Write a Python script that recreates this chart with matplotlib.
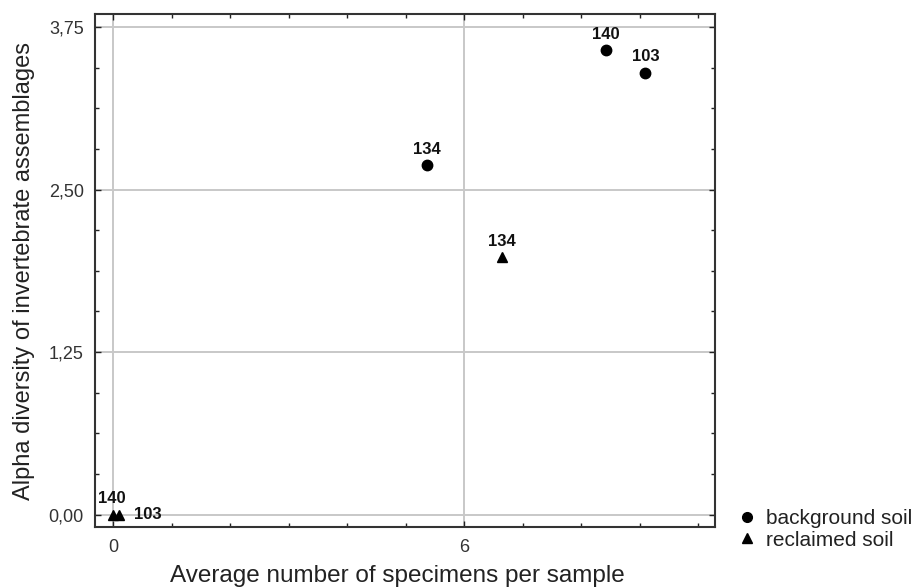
import matplotlib
matplotlib.use("Agg")
import matplotlib.pyplot as plt
from matplotlib.ticker import MultipleLocator, FixedLocator
from matplotlib.lines import Line2D

plt.rcParams['font.family'] = ['Liberation Sans', 'DejaVu Sans']

# Data
bg_labels = ["134", "140", "103"]
bg_x = [5.36, 8.43, 9.10]
bg_y = [2.69, 3.57, 3.40]

rc_labels = ["140", "103", "134"]
rc_x = [0.0, 0.1, 6.64]
rc_y = [0.0, 0.0, 1.98]

x_ticks = [0, 6]
y_ticks = [0.0, 1.25, 2.50, 3.75]
y_tick_labels = ["0,00", "1,25", "2,50", "3,75"]

fig = plt.figure(figsize=(9.18, 5.88), dpi=100)
ax = fig.add_axes([95/918, 1 - 527/588, (715-95)/918, (527-14)/588])

ax.set_xlim(-0.31, 10.29)
ax.set_ylim(-0.095, 3.85)

ax.grid(True, color="#c8c8c8", linewidth=1.4, zorder=0)
ax.set_axisbelow(True)

ax.plot(bg_x, bg_y, linestyle="none", marker="o", color="black", markersize=7.5, zorder=3)
ax.plot(rc_x, rc_y, linestyle="none", marker="^", color="black", markersize=7.5, zorder=3)

lab_kw = dict(fontsize=12, fontweight="bold", color="#111111", zorder=4)
for x, y, t in zip(bg_x, bg_y, bg_labels):
    ax.annotate(t, (x, y), xytext=(0, 6), textcoords="offset points", ha="center", va="bottom", **lab_kw)
for x, y, t in zip(rc_x, rc_y, rc_labels):
    if t == "140":
        ax.annotate(t, (x, y), xytext=(-1, 6), textcoords="offset points", ha="center", va="bottom", **lab_kw)
    elif t == "103":
        ax.annotate(t, (x, y), xytext=(11, 0), textcoords="offset points", ha="left", va="center", **lab_kw)
    else:
        ax.annotate(t, (x, y), xytext=(0, 6), textcoords="offset points", ha="center", va="bottom", **lab_kw)

ax.xaxis.set_major_locator(FixedLocator(x_ticks))
ax.xaxis.set_minor_locator(MultipleLocator(1))
ax.yaxis.set_major_locator(FixedLocator(y_ticks))
ax.yaxis.set_minor_locator(MultipleLocator(0.3125))
ax.set_yticklabels(y_tick_labels)
ax.set_xticklabels([str(v) for v in x_ticks])

ax.tick_params(which="both", direction="in", top=True, right=True, colors="#222222",
               labelcolor="#333333", labelsize=13)
ax.tick_params(which="major", length=4, width=1)
ax.tick_params(which="minor", length=3, width=1)
ax.tick_params(axis="x", pad=9)
ax.tick_params(axis="y", pad=8)

for s in ax.spines.values():
    s.set_linewidth(1.5)
    s.set_color("#333333")

ax.set_xlabel("Average number of specimens per sample", fontsize=17.5, color="#222222", labelpad=7)
ax.xaxis.set_label_coords(0.487, -0.075)
ax.xaxis.label.set_va("top")
ax.set_ylabel("Alpha diversity of invertebrate assemblages", fontsize=17, color="#222222", labelpad=10)

handles = [
    Line2D([], [], linestyle="none", marker="o", color="black", markersize=7),
    Line2D([], [], linestyle="none", marker="^", color="black", markersize=7),
]
fig.legend(handles, ["background soil", "reclaimed soil"], loc="upper left",
           bbox_to_anchor=(728/918, 1 - 499/588), frameon=False, fontsize=15,
           handlelength=0.8, handletextpad=0.5, labelspacing=0.1, borderpad=0,
           labelcolor="#222222")

fig.savefig("out.png", dpi=100)
